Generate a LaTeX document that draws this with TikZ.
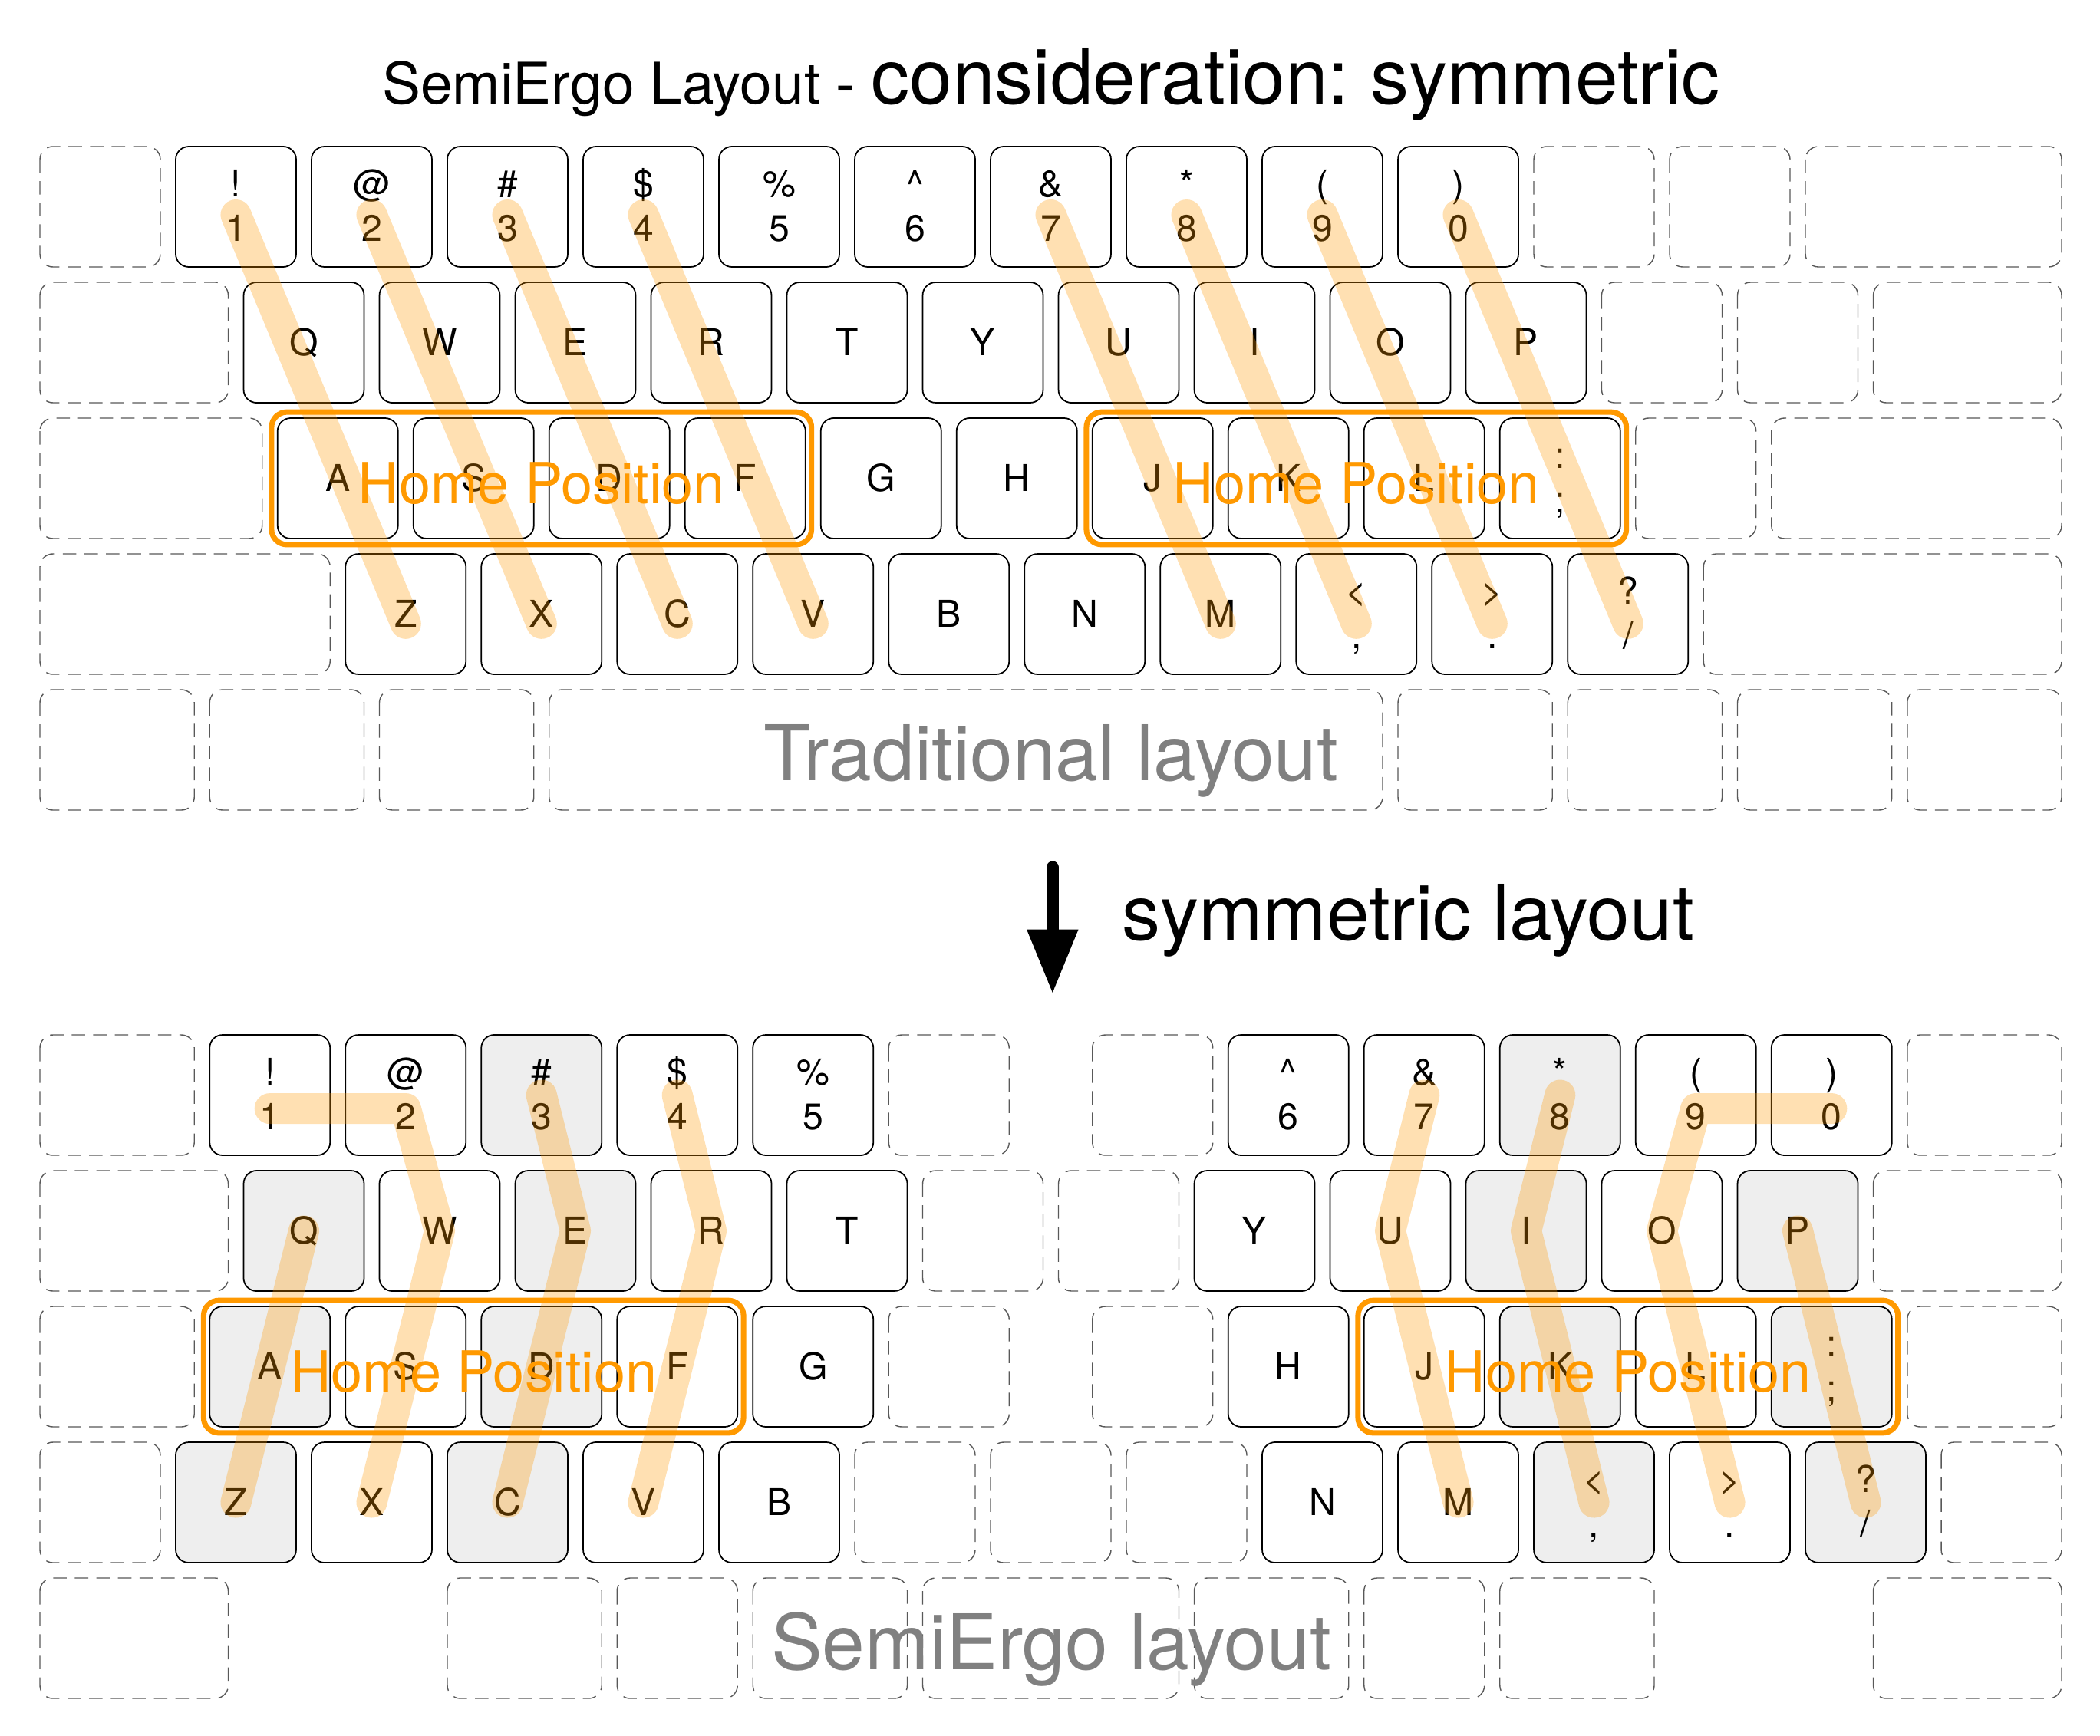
\documentclass[tikz,border=0pt]{standalone}
\usepackage{fontspec}
\setmainfont{TeX Gyre Heros}
\usetikzlibrary{arrows.meta,fit}
\frenchspacing

\definecolor{homeorange}{HTML}{FF9900}
\definecolor{capgray}{HTML}{EEEEEE}

% one legend, or two stacked legends, centred on the key
\newcommand{\kcap}[1]{\makebox[0pt]{\raisebox{-4.9pt}[0pt][0pt]{#1}}}
\newcommand{\kpair}[2]{\makebox[0pt]{\raisebox{3.6pt}[0pt][0pt]{#1}}\makebox[0pt]{\raisebox{-12.9pt}[0pt][0pt]{#2}}}

\tikzset{
  keycap/.style={draw,line width=0.5pt,rounded corners=0.17cm,fill=white,
    minimum width=1.57cm,minimum height=1.57cm,inner sep=0pt,
    font=\fontsize{13.7}{16}\selectfont},
  shaded/.style={fill=capgray},
  unshaded/.style={},
  ghost/.style={draw=black!65,line width=0.4pt,dash pattern=on 5pt off 3pt,rounded corners=0.17cm},
  homebox/.style={draw=homeorange,line width=2pt,rounded corners=0.2cm,inner sep=0.07cm},
  hometext/.style={anchor=base,text=homeorange,font=\fontsize{21}{24}\selectfont},
  finger/.style={draw=homeorange,opacity=0.3,line width=11.4pt,line cap=round,line join=round},
  bigtext/.style={anchor=base,font=\fontsize{28.5}{32}\selectfont},
  bigarrow/.style={line width=4.7pt,line cap=round,-{Triangle[length=24pt,width=17.7pt]}}
}

\begin{document}
\begin{tikzpicture}[x=1.77cm,y=1.77cm]
  \path[use as bounding box,fill=white] (-0.2938,1.0791) rectangle (15.1695,-11.7006);

  \node[anchor=base] (title) at (7.4463,0.3124)
    {{\fontsize{21.3}{24}\selectfont SemiErgo Layout - }{\fontsize{28.5}{32}\selectfont consideration: symmetric}};

  % traditional layout
  \foreach \x/\y/\w in {0/0/1, 11/0/1, 12/0/1, 13/0/2,
      0/-1/1.5, 11.5/-1/1, 12.5/-1/1, 13.5/-1/1.5,
      0/-2/1.75, 11.75/-2/1, 12.75/-2/2.25,
      0/-3/2.25, 12.25/-3/2.75,
      0/-4/1.25, 1.25/-4/1.25, 2.5/-4/1.25, 3.75/-4/6.25, 10/-4/1.25, 11.25/-4/1.25, 12.5/-4/1.25, 13.75/-4/1.25}
    \draw[ghost] (\x,\y) rectangle ++(\w-0.113,-0.887);

  \foreach \n/\a [count=\i from 0] in {1/!,2/@,3/\#,4/\$,5/\%,6/\textasciicircum,7/\&,8/*,9/(,0/)}
    \node[keycap] (t-\n) at (1.4435+\i,-0.4435) {\kpair{\a}{\n}};
  \foreach \n/\lab [count=\i from 0] in {q/Q,w/W,e/E,r/R,t/T,y/Y,u/U,i/I,o/O,p/P}
    \node[keycap] (t-\n) at (1.9435+\i,-1.4435) {\kcap{\lab}};
  \foreach \n/\lab [count=\i from 0] in {a/A,s/S,d/D,f/F,g/G,h/H,j/J,k/K,l/L}
    \node[keycap] (t-\n) at (2.1935+\i,-2.4435) {\kcap{\lab}};
  \node[keycap] (t-sc) at (11.1935,-2.4435) {\kpair{:}{;}};
  \foreach \n/\lab [count=\i from 0] in {z/Z,x/X,c/C,v/V,b/B,n/N,m/M}
    \node[keycap] (t-\n) at (2.6935+\i,-3.4435) {\kcap{\lab}};
  \node[keycap] (t-lt) at (9.6935,-3.4435) {\kpair{<}{,}};
  \node[keycap] (t-gt) at (10.6935,-3.4435) {\kpair{>}{.}};
  \node[keycap] (t-qm) at (11.6935,-3.4435) {\kpair{?}{/}};

  \draw[finger] ([yshift=-3pt]t-1.center) -- ([yshift=-3.5pt]t-z.center);
  \draw[finger] ([yshift=-3pt]t-2.center) -- ([yshift=-3.5pt]t-x.center);
  \draw[finger] ([yshift=-3pt]t-3.center) -- ([yshift=-3.5pt]t-c.center);
  \draw[finger] ([yshift=-3pt]t-4.center) -- ([yshift=-3.5pt]t-v.center);
  \draw[finger] ([yshift=-3pt]t-7.center) -- ([yshift=-3.5pt]t-m.center);
  \draw[finger] ([yshift=-3pt]t-8.center) -- ([yshift=-3.5pt]t-lt.center);
  \draw[finger] ([yshift=-3pt]t-9.center) -- ([yshift=-3.5pt]t-gt.center);
  \draw[finger] ([yshift=-3pt]t-0.center) -- ([yshift=-3.5pt]t-qm.center);

  \node[homebox,fit=(t-a)(t-f)] (t-homel) {};
  \node[homebox,fit=(t-j)(t-sc)] (t-homer) {};
  \node[hometext] (t-homel-lab) at ([yshift=-9.5pt]t-homel.center) {Home Position};
  \node[hometext] (t-homer-lab) at ([yshift=-9.5pt]t-homer.center) {Home Position};

  \node[bigtext,text=gray] (t-name) at (7.4463,-4.6667) {Traditional layout};

  % arrow
  \coordinate (arrtail) at (7.4565,-5.309);
  \coordinate (arrhead) at (7.4565,-6.243);
  \draw[bigarrow] (arrtail) -- (arrhead);
  \node[bigtext,anchor=base west] (change) at (7.898,-5.8458) {symmetric layout};

  % semiergo layout
  \foreach \x/\y/\w in {0/-6.5424/1.25, 6.25/-6.5424/1, 7.75/-6.5424/1, 13.75/-6.5424/1.25,
      0/-7.5424/1.5, 6.5/-7.5424/1, 7.5/-7.5424/1, 13.5/-7.5424/1.5,
      0/-8.5424/1.25, 6.25/-8.5424/1, 7.75/-8.5424/1, 13.75/-8.5424/1.25,
      0/-9.5424/1, 6/-9.5424/1, 7/-9.5424/1, 8/-9.5424/1, 14/-9.5424/1,
      0/-10.5424/1.5, 3/-10.5424/1.25, 4.25/-10.5424/1, 5.25/-10.5424/1.25, 6.5/-10.5424/2,
      8.5/-10.5424/1.25, 9.75/-10.5424/1, 10.75/-10.5424/1.25, 13.5/-10.5424/1.5}
    \draw[ghost] (\x,\y) rectangle ++(\w-0.113,-0.887);

  \foreach \n/\a/\s [count=\i from 0] in {1/!/unshaded,2/@/unshaded,3/\#/shaded,4/\$/unshaded,5/\%/unshaded}
    \node[keycap,\s] (s-\n) at (1.6935+\i,-6.9859) {\kpair{\a}{\n}};
  \foreach \n/\a/\s [count=\i from 0] in {6/\textasciicircum/unshaded,7/\&/unshaded,8/*/shaded,9/(/unshaded,0/)/unshaded}
    \node[keycap,\s] (s-\n) at (9.1935+\i,-6.9859) {\kpair{\a}{\n}};
  \foreach \n/\lab/\s [count=\i from 0] in {q/Q/shaded,w/W/unshaded,e/E/shaded,r/R/unshaded,t/T/unshaded}
    \node[keycap,\s] (s-\n) at (1.9435+\i,-7.9859) {\kcap{\lab}};
  \foreach \n/\lab/\s [count=\i from 0] in {y/Y/unshaded,u/U/unshaded,i/I/shaded,o/O/unshaded,p/P/shaded}
    \node[keycap,\s] (s-\n) at (8.9435+\i,-7.9859) {\kcap{\lab}};
  \foreach \n/\lab/\s [count=\i from 0] in {a/A/shaded,s/S/unshaded,d/D/shaded,f/F/unshaded,g/G/unshaded}
    \node[keycap,\s] (s-\n) at (1.6935+\i,-8.9859) {\kcap{\lab}};
  \foreach \n/\lab/\s [count=\i from 0] in {h/H/unshaded,j/J/unshaded,k/K/shaded,l/L/unshaded}
    \node[keycap,\s] (s-\n) at (9.1935+\i,-8.9859) {\kcap{\lab}};
  \node[keycap,shaded] (s-sc) at (13.1935,-8.9859) {\kpair{:}{;}};
  \foreach \n/\lab/\s [count=\i from 0] in {z/Z/shaded,x/X/unshaded,c/C/shaded,v/V/unshaded,b/B/unshaded}
    \node[keycap,\s] (s-\n) at (1.4435+\i,-9.9859) {\kcap{\lab}};
  \node[keycap] (s-n) at (9.4435,-9.9859) {\kcap{N}};
  \node[keycap] (s-m) at (10.4435,-9.9859) {\kcap{M}};
  \node[keycap,shaded] (s-lt) at (11.4435,-9.9859) {\kpair{<}{,}};
  \node[keycap] (s-gt) at (12.4435,-9.9859) {\kpair{>}{.}};
  \node[keycap,shaded] (s-qm) at (13.4435,-9.9859) {\kpair{?}{/}};

  \draw[finger] ([yshift=-5pt]s-1.center) -- ([yshift=-5pt]s-2.center) -- (s-w.center) -- (s-x.center);
  \draw[finger] (s-3.center) -- (s-e.center) -- (s-c.center);
  \draw[finger] (s-4.center) -- (s-r.center) -- (s-v.center);
  \draw[finger] (s-q.center) -- (s-z.center);
  \draw[finger] (s-7.center) -- (s-u.center) -- (s-m.center);
  \draw[finger] (s-8.center) -- (s-i.center) -- (s-lt.center);
  \draw[finger] ([yshift=-5pt]s-0.center) -- ([yshift=-5pt]s-9.center) -- (s-o.center) -- (s-gt.center);
  \draw[finger] (s-p.center) -- (s-qm.center);

  \node[homebox,fit=(s-a)(s-f)] (s-homel) {};
  \node[homebox,fit=(s-j)(s-sc)] (s-homer) {};
  \node[hometext] (s-homel-lab) at ([yshift=-9.5pt]s-homel.center) {Home Position};
  \node[hometext] (s-homer-lab) at ([yshift=-9.5pt]s-homer.center) {Home Position};

  \node[bigtext,text=gray] (s-name) at (7.4463,-11.2147) {SemiErgo layout};
\end{tikzpicture}
\end{document}
